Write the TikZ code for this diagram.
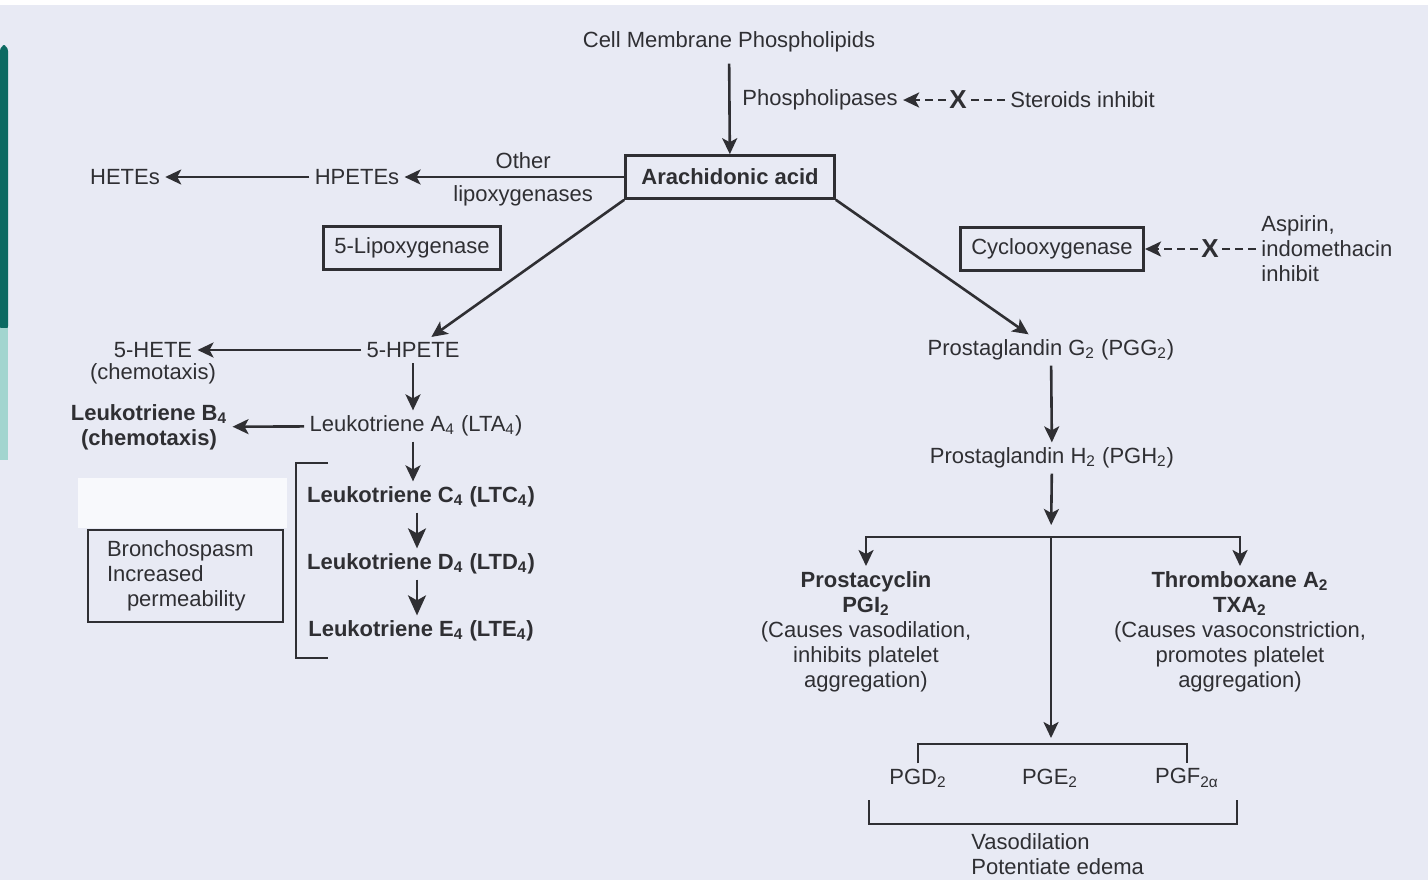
\documentclass[tikz,border=0pt]{standalone}
\usepackage{fontspec}
\setmainfont{Liberation Sans}
\usetikzlibrary{arrows.meta}
\definecolor{paper}{HTML}{E8EAF4}
\definecolor{ink}{HTML}{2F2F33}
\definecolor{tealdark}{HTML}{0C6A62}
\definecolor{teallight}{HTML}{A2D5CF}

\begin{document}
\begin{tikzpicture}[x=0.5pt, y=-0.5pt, font=\fontsize{11}{12.5}\selectfont, text=ink,
  every node/.style={inner sep=2.5pt},
  box/.style={draw=ink, line width=1.3pt, inner xsep=5.5pt, minimum height=21.5pt},
  flow/.style={draw=ink, line width=1.3pt, -{Stealth[length=8pt,width=7.5pt,inset=2pt]}},
  fatflow/.style={flow, -{Stealth[length=10pt,width=9pt,inset=2.5pt]}},
  inhib/.style={draw=ink, line width=1.3pt, dash pattern=on 4pt off 2.5pt},
  cross/.style={font=\fontsize{13}{13}\selectfont\bfseries, inner sep=1.5pt},
  brace/.style={draw=ink, line width=1.2pt}]
  \useasboundingbox (0,0) rectangle (1428,880);
  \fill[paper] (0,0) rectangle (1428,880);
  \fill[white] (0,0) rectangle (1428,5);
  \fill[tealdark, rounded corners=3pt] (0,45) rectangle (8,332);
  \fill[teallight] (0,328) rectangle (8,460);
  \fill[white!70!paper] (78,478) rectangle (287,528);

  \node (cell) at (729,42) {Cell Membrane Phospholipids};
  \node[box, minimum width=104.5pt] (arach) at (730,177) {\textbf{Arachidonic acid}};
  \node[anchor=west] (phl) at (737,100) {Phospholipases};
  \node[cross] (xa) at (958,100) {X};
  \node[anchor=west] (ster) at (1005,100) {Steroids inhibit};

  \node (hpetes) at (357,177) {HPETEs};
  \node (hetes) at (125,177) {HETEs};
  \node[box] (lipox) at (412,248) {5-Lipoxygenase};
  \node[box] (cyclo) at (1052,249) {Cyclooxygenase};
  \node[cross] (xb) at (1210,249) {X};
  \node[anchor=west, align=left] (aspirin) at (1256,249) {Aspirin,\\indomethacin\\inhibit};

  \node (hpete5) at (413,350) {5-HPETE};
  \node (hete5) at (153,350) {5-HETE};
  \node (hete5note) at (153,374) {(chemotaxis)};
  \node (lta) at (416,426) {Leukotriene A\textsubscript{4} (LTA\textsubscript{4})};
  \node[align=center, font=\fontsize{11}{12.5}\selectfont\bfseries] (ltb) at (149,427)
    {Leukotriene B\textsubscript{4}\\(chemotaxis)};
  \node (ltc) at (421,497) {\textbf{Leukotriene C\textsubscript{4} (LTC\textsubscript{4})}};
  \node (ltd) at (421,564) {\textbf{Leukotriene D\textsubscript{4} (LTD\textsubscript{4})}};
  \node (lte) at (421,631) {\textbf{Leukotriene E\textsubscript{4} (LTE\textsubscript{4})}};
  \node[draw=ink, line width=1.3pt, minimum width=97.5pt, minimum height=46pt,
    inner xsep=0pt, text width=78.5pt, align=left] (broncho) at (185.5,576)
    {Bronchospasm\\Increased\\\hspace*{10pt}permeability};

  \node (pgg) at (1051,350) {Prostaglandin G\textsubscript{2} (PGG\textsubscript{2})};
  \node (pgh) at (1052,458) {Prostaglandin H\textsubscript{2} (PGH\textsubscript{2})};
  \coordinate (fork) at (1051,537);
  \node[anchor=north, align=center] (pgi) at (866,566)
    {\textbf{Prostacyclin}\\\textbf{PGI\textsubscript{2}}\\(Causes vasodilation,\\inhibits platelet\\aggregation)};
  \node[anchor=north, align=center] (txa) at (1240,566)
    {\textbf{Thromboxane A\textsubscript{2}}\\\textbf{TXA\textsubscript{2}}\\(Causes vasoconstriction,\\promotes platelet\\aggregation)};
  \coordinate (pgtop) at (1051,744);
  \node (pgd) at (918,778) {PGD\textsubscript{2}};
  \node (pge) at (1050,778) {PGE\textsubscript{2}};
  \node (pgf) at (1187,778) {PGF\textsubscript{2α}};
  \node[anchor=west, align=left] (vaso) at (966,854) {Vasodilation\\Potentiate edema};

  \draw[flow, shorten <=3pt] (cell) -- (arach);
  \draw[inhib, -{Stealth[length=8pt,width=7.5pt,inset=2pt]}] (xa) -- (phl);
  \draw[inhib] (ster) -- (xa);
  \draw[flow] (arach) -- node[pos=0.46, above=1pt] {Other} node[pos=0.46, below=1pt] {lipoxygenases} (hpetes);
  \draw[flow] (hpetes) -- (hetes);
  \draw[inhib, -{Stealth[length=8pt,width=7.5pt,inset=2pt]}] (xb) -- (cyclo);
  \draw[inhib] (aspirin.west |- xb) -- (xb);
  \draw[flow] (arach.south west) -- (hpete5);
  \draw[flow] (arach.south east) -- (pgg);

  \draw[flow] (hpete5) -- (hete5);
  \draw[flow] (hpete5.south) -- (hpete5.south |- lta.north);
  \draw[flow] (lta) -- (ltb);
  \draw[flow] (lta.south -| hpete5) -- (ltc.north -| hpete5);
  \draw[fatflow] (ltc.south) ++(-4,0) -- (ltd.north -| 417,0);
  \draw[fatflow] (ltd.south) ++(-4,0) -- (lte.north -| 417,0);
  \draw[brace] (328,463) -- (296,463) -- (296,658) -- (328,658);

  \draw[flow] (pgg) -- (pgh);
  \draw[flow, shorten >=6pt] (pgh) -- (fork);
  \draw[flow] (fork) -| (pgi.north);
  \draw[flow] (fork) -| (txa.north);
  \draw[flow, shorten >=3pt] (fork) -- (pgtop);
  \draw[brace] (pgd.north) |- (pgtop) -| (pgf.north);
  \draw[brace] (869,800) -- (869,824) -- (1237,824) -- (1237,800);
\end{tikzpicture}
\end{document}
